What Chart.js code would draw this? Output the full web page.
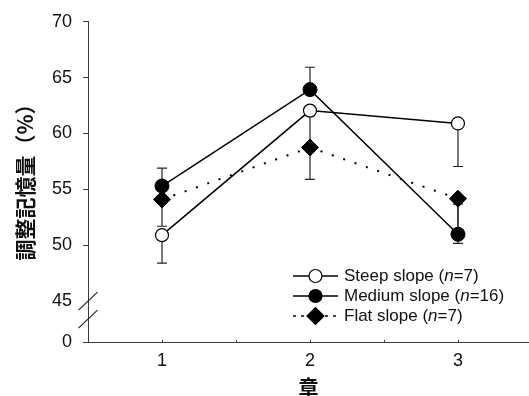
<!DOCTYPE html>
<html>
<head>
<meta charset="utf-8">
<script src="https://cdn.jsdelivr.net/npm/chart.js@4.4.1/dist/chart.umd.min.js"></script>
<style>
  html, body { margin: 0; padding: 0; background: #fff; overflow: hidden; }
  #grafico { display: block; }
</style>
</head>
<body>
<canvas id="grafico" width="529" height="396"></canvas>
<script>
// dados
const chapters = [1, 2, 3];
const xTickLabels = ["1", "2", "3"];
const yTickValues = [45, 50, 55, 60, 65, 70];
const yBreakLabel = "0";

const steep = [50.9, 62.05, 60.9];
const medium = [55.3, 63.93, 50.98];
const flat = [54.1, 58.75, 54.17];

// barras de erro (para cima / para baixo)
const steepErrUp = [0, 0, 0];
const steepErrDown = [2.5, 0, 3.85];
const mediumErrUp = [1.6, 2.0, 2.7];
const mediumErrDown = [0, 0, 0];
const flatErrUp = [0, 2.85, 0];
const flatErrDown = [2.4, 2.85, 4.0];

const legendLabels = [
  ["Steep slope (", "n", "=7)"],
  ["Medium slope ", "(n", "=16)"],
  ["Flat slope (", "n", "=7)"],
];
const yTitle = "調整記憶量（%）";
const xTitle = "章";

const axisColor = "#3a3a3a";
const yBottom = 41.34; // valor que fica no "0" depois da quebra
const xMin = 0.5;
const xMax = 3.48;

function pontos(valores) {
  return chapters.map((c, i) => ({ x: c, y: valores[i] }));
}

const errorSets = [
  { up: steepErrUp, down: steepErrDown, vals: steep },
  { up: mediumErrUp, down: mediumErrDown, vals: medium },
  { up: flatErrUp, down: flatErrDown, vals: flat },
];

const errorBars = {
  id: "errorBars",
  beforeDatasetsDraw(chart) {
    const { ctx, scales } = chart;
    ctx.save();
    ctx.strokeStyle = "#222";
    ctx.lineWidth = 1.2;
    errorSets.forEach((s) => {
      s.vals.forEach((v, i) => {
        const x = scales.x.getPixelForValue(chapters[i]);
        const yc = scales.y.getPixelForValue(v);
        [s.up[i], -s.down[i]].forEach((e) => {
          if (!e) return;
          const ye = scales.y.getPixelForValue(v + e);
          ctx.beginPath();
          ctx.moveTo(x, yc);
          ctx.lineTo(x, ye);
          ctx.moveTo(x - 5, ye);
          ctx.lineTo(x + 5, ye);
          ctx.stroke();
        });
      });
    });
    ctx.restore();
  },
};

const extras = {
  id: "extras",
  afterDraw(chart) {
    const { ctx, scales, chartArea } = chart;
    ctx.save();
    // marcas do eixo x (para dentro)
    ctx.strokeStyle = axisColor;
    ctx.lineWidth = 1;
    scales.x.ticks.forEach((t) => {
      const x = Math.round(scales.x.getPixelForValue(t.value)) + 0.5;
      ctx.beginPath();
      ctx.moveTo(x, chartArea.bottom);
      ctx.lineTo(x, chartArea.bottom - 2);
      ctx.stroke();
    });
    // quebra do eixo y
    const p45 = scales.y.getPixelForValue(45);
    const ax = chartArea.left;
    ctx.strokeStyle = "#222";
    ctx.lineWidth = 1.2;
    [p45, p45 + 18].forEach((yc) => {
      ctx.beginPath();
      ctx.moveTo(ax - 9.5, yc + 9);
      ctx.lineTo(ax + 9.5, yc - 9);
      ctx.stroke();
    });

    // titulo do eixo y
    ctx.save();
    ctx.translate(25, 177);
    ctx.rotate(-Math.PI / 2);
    ctx.font = "bold 21px 'Noto Sans CJK JP', sans-serif";
    ctx.fillStyle = "#111";
    ctx.textAlign = "center";
    ctx.textBaseline = "middle";
    ctx.fillText(yTitle, 0, 0);
    ctx.restore();

    // legenda
    const rows = [
      { fill: "#fff", shape: "circle", dash: [] },
      { fill: "#000", shape: "circle", dash: [] },
      { fill: "#000", shape: "diamond", dash: [3, 5] },
    ];
    const lx1 = 293, lx2 = 338, mx = 315.5, tx = 344;
    rows.forEach((r, i) => {
      const y = 276 + i * 20;
      ctx.strokeStyle = "#000";
      ctx.lineWidth = 1.5;
      ctx.setLineDash(r.dash);
      ctx.beginPath();
      ctx.moveTo(lx1, y);
      ctx.lineTo(lx2, y);
      ctx.stroke();
      ctx.setLineDash([]);
      ctx.fillStyle = r.fill;
      ctx.beginPath();
      if (r.shape === "circle") {
        ctx.arc(mx, y, 6.5, 0, Math.PI * 2);
      } else {
        ctx.moveTo(mx - 8.5, y);
        ctx.lineTo(mx, y - 8.5);
        ctx.lineTo(mx + 8.5, y);
        ctx.lineTo(mx, y + 8.5);
        ctx.closePath();
      }
      ctx.fill();
      ctx.lineWidth = 1.2;
      ctx.stroke();

      ctx.fillStyle = "#111";
      ctx.textBaseline = "middle";
      ctx.textAlign = "left";
      let x = tx;
      legendLabels[i].forEach((parte, k) => {
        ctx.font = (k === 1 ? "italic " : "") + "17px 'Liberation Sans', Arial, sans-serif";
        if (k === 1 && parte.startsWith("(")) {
          ctx.font = "17px 'Liberation Sans', Arial, sans-serif";
          ctx.fillText("(", x, y);
          x += ctx.measureText("(").width;
          ctx.font = "italic 17px 'Liberation Sans', Arial, sans-serif";
          parte = parte.slice(1);
        }
        ctx.fillText(parte, x, y);
        x += ctx.measureText(parte).width;
      });
    });
    ctx.restore();
  },
};

const grafico = document.getElementById("grafico");

const chart = new Chart(grafico, {
  type: "line",
  data: {
    datasets: [
      {
        label: "Steep slope",
        data: pontos(steep),
        borderColor: "#000",
        borderWidth: 1.5,
        pointStyle: "circle",
        pointRadius: 6.5,
        pointBackgroundColor: "#fff",
        pointBorderColor: "#000",
        pointBorderWidth: 1.2,
      },
      {
        label: "Medium slope",
        data: pontos(medium),
        borderColor: "#000",
        borderWidth: 1.5,
        pointStyle: "circle",
        pointRadius: 7,
        pointBackgroundColor: "#000",
        pointBorderColor: "#000",
        pointBorderWidth: 1,
      },
      {
        label: "Flat slope",
        data: pontos(flat),
        borderColor: "#000",
        borderWidth: 2,
        borderDash: [2, 10],
        pointStyle: "rectRot",
        pointRadius: 8.5,
        pointBackgroundColor: "#000",
        pointBorderColor: "#000",
        pointBorderWidth: 1,
      },
    ],
  },
  options: {
    responsive: false,
    animation: false,
    devicePixelRatio: 1,
    layout: { autoPadding: false, padding: { top: 21, right: 0, left: 0, bottom: 0 } },
    plugins: { legend: { display: false }, tooltip: { enabled: false } },
    scales: {
      x: {
        type: "linear",
        min: xMin,
        max: xMax,
        afterBuildTicks(scale) {
          const t = [];
          for (let v = xMin; v <= xMax; v += 0.5) t.push({ value: v });
          scale.ticks = t;
        },
        afterFit(scale) {
          scale.height = 54;
          scale.paddingLeft = 0;
          scale.paddingRight = 0;
        },
        grid: { display: false, drawTicks: false },
        border: { display: true, color: axisColor, width: 1 },
        ticks: {
          padding: 8,
          color: "#111",
          font: { family: "'Liberation Sans', Arial, sans-serif", size: 18 },
          maxRotation: 0,
          autoSkip: false,
          callback: (v) => (Number.isInteger(v) ? xTickLabels[v - 1] : ""),
        },
        title: {
          display: true,
          text: xTitle,
          color: "#111",
          font: { family: "'Noto Sans CJK JP', sans-serif", size: 20, weight: "bold" },
          padding: { top: 0, bottom: -3 },
        },
      },
      y: {
        type: "linear",
        min: yBottom,
        max: 70,
        afterBuildTicks(scale) {
          scale.ticks = [yBottom].concat(yTickValues).map((v) => ({ value: v }));
        },
        afterFit(scale) {
          scale.width = 88;
        },
        grid: {
          drawOnChartArea: false,
          drawTicks: true,
          tickLength: 5,
          color: (c) => (c.tick && c.tick.value === 45 ? "rgba(0,0,0,0)" : axisColor),
        },
        border: { display: true, color: axisColor, width: 1 },
        ticks: {
          padding: 11,
          color: "#111",
          font: { family: "'Liberation Sans', Arial, sans-serif", size: 18 },
          callback: (v) => (v < 45 ? yBreakLabel : String(v)),
        },
        title: { display: false },
      },
    },
  },
  plugins: [errorBars, extras],
});
</script>
</body>
</html>
